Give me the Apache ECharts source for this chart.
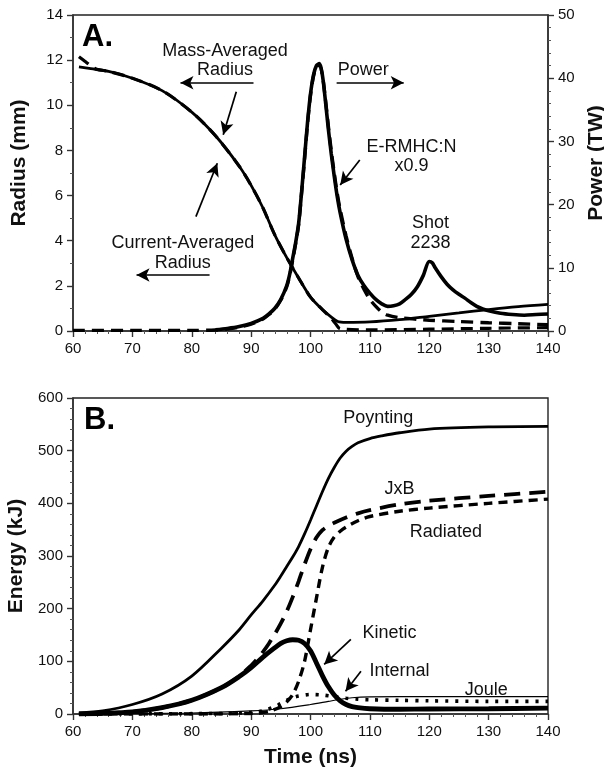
<!DOCTYPE html>
<html>
<head>
<meta charset="utf-8">
<script src="https://cdn.jsdelivr.net/npm/echarts@6/dist/echarts.min.js"></script>
<style>
  html, body { margin: 0; padding: 0; background: #fff; }
  #chart { width: 604px; height: 770px; }
</style>
</head>
<body>
<div id="chart"></div>
<script>
// ---------- Panel A data ----------
var radiusMassT = [61, 63, 66, 70, 75, 80, 84, 88, 90, 92, 94, 96, 98, 100, 102, 103.3, 104.6, 106, 110, 115, 120, 125, 130, 135, 140];
var radiusMass = [11.7, 11.62, 11.5, 11.2, 10.65, 9.7, 8.65, 7.3, 6.45, 5.45, 4.25, 3.25, 2.35, 1.5, 0.95, 0.66, 0.42, 0.38, 0.4, 0.5, 0.65, 0.8, 0.95, 1.08, 1.18];

var radiusCurT = [61, 62, 63, 64, 66, 70, 75, 80, 84, 88, 90, 92, 94, 96, 98, 100, 102, 103.3, 104.3, 105, 110, 120, 130, 140];
var radiusCur = [12.15, 11.95, 11.75, 11.6, 11.5, 11.2, 10.65, 9.7, 8.65, 7.3, 6.45, 5.45, 4.25, 3.25, 2.35, 1.5, 0.95, 0.62, 0.3, 0.1, 0.05, 0.08, 0.12, 0.15];

var powerExpT = [84, 86, 88, 90, 92, 93, 94, 95, 96, 96.5, 97, 97.5, 98, 98.5, 99, 99.5, 100, 100.5, 101, 101.5, 102, 102.5, 103, 103.5, 104, 104.5, 105, 106, 107, 108, 109, 110, 111, 112, 113, 114, 115, 116, 117, 118, 119, 120, 120.5, 121, 122, 123, 124, 125, 126, 127, 128, 129, 130, 132, 134, 136, 138, 140];
var powerExp = [0.2, 0.4, 0.7, 1.2, 2.0, 2.7, 3.6, 5.0, 7.2, 9.0, 11.5, 14, 17, 22, 27.5, 33, 37.5, 40.5, 42, 42.3, 40.5, 36.5, 32, 28, 24.5, 21.3, 18.7, 14.5, 11.3, 8.8, 7.2, 6.0, 5.0, 4.3, 3.9, 4.0, 4.3, 5.0, 5.8, 7.0, 8.8, 11.0, 10.8, 10.0, 8.6, 7.4, 6.5, 5.8, 5.2, 4.5, 3.9, 3.5, 3.2, 2.8, 2.6, 2.5, 2.6, 2.7];

var powerSimT = [60, 70, 80, 84, 86, 88, 90, 92, 93, 94, 95, 96, 96.5, 97, 97.5, 98, 98.5, 99, 99.5, 100, 100.5, 101, 101.5, 102, 102.5, 103, 103.5, 104, 104.5, 105, 106, 107, 108, 109, 110, 111, 112, 113, 115, 118, 120, 125, 130, 135, 140];
var powerSim = [0.1, 0.1, 0.1, 0.15, 0.3, 0.6, 1.1, 1.9, 2.6, 3.5, 4.9, 7.0, 8.8, 11.2, 13.8, 16.8, 21.8, 27.2, 32.8, 37.3, 40.3, 41.8, 42.1, 40.5, 36.8, 32.5, 28.5, 25, 21.8, 19.2, 15, 11.5, 8.6, 6.6, 5.0, 3.9, 3.0, 2.5, 2.1, 1.85, 1.7, 1.5, 1.3, 1.15, 1.0];

// ---------- Panel B data ----------
var poyntingT = [61, 65, 70, 75, 80, 85, 88, 90, 92, 94, 95, 96, 97, 98, 99, 100, 101, 102, 103, 104, 105, 106, 107, 108, 110, 112, 115, 120, 130, 140];
var poynting = [2, 6, 18, 38, 72, 125, 160, 188, 215, 245, 262, 280, 298, 318, 342, 368, 395, 422, 447, 468, 486, 499, 508, 515, 523, 528, 534, 541, 545, 546];

var jxbT = [61, 65, 70, 75, 80, 85, 88, 90, 91, 92, 93, 94, 95, 96, 97, 98, 99, 100, 101, 102, 103, 104, 106, 108, 110, 115, 120, 130, 140];
var jxb = [0, 1, 4, 12, 26, 50, 72, 92, 104, 118, 134, 152, 172, 195, 222, 252, 284, 313, 335, 349, 357, 363, 373, 381, 387, 398, 405, 414, 422];

var radiatedT = [61, 80, 90, 93, 95, 96, 97, 98, 99, 100, 101, 102, 103, 104, 105, 106, 108, 110, 115, 120, 130, 140];
var radiated = [0, 0, 1, 5, 14, 23, 37, 62, 100, 160, 220, 278, 316, 336, 347, 355, 367, 375, 385, 391, 400, 408];

var kineticT = [61, 65, 70, 75, 80, 85, 88, 90, 92, 94, 95, 96, 97, 98, 99, 100, 101, 102, 103, 104, 105, 106, 107, 108, 110, 115, 120, 130, 140];
var kinetic = [0, 1, 4, 12, 26, 50, 71, 88, 108, 126, 134, 139, 141, 140, 134, 120, 97, 73, 52, 36, 25, 18, 14, 12, 10, 9, 9.5, 10, 11];

var internalT = [61, 85, 90, 92, 94, 95, 96, 97, 98, 100, 102, 104, 106, 108, 110, 115, 120, 130, 140];
var internal = [0, 1, 3, 6, 14, 20, 26, 31, 34, 37, 36, 33, 30, 28, 27, 26, 25, 24, 24];

var jouleT = [61, 80, 90, 95, 100, 103, 105, 107, 110, 120, 140];
var joule = [0, 2, 6, 10, 18, 24, 28, 31, 32.5, 33, 33];

function pairs(xs, ys) {
  return xs.map(function (x, i) { return [x, ys[i]]; });
}

var FONT = '"Liberation Sans", Arial, sans-serif';
var INK = "#111";

// annotation arrows: [from, to] in data coords
var arrowsA = [
  [[90.4, 11.0], [78.1, 11.0]],
  [[87.5, 10.6], [85.3, 8.7]],
  [[104.4, 11.0], [115.7, 11.0]],
  [[108.3, 7.58], [105.0, 6.47]],
  [[80.7, 5.07], [84.3, 7.43]],
  [[83.0, 2.48], [70.7, 2.48]],
];
var arrowsB = [
  [[106.8, 141.6], [102.3, 94]],
  [[108.5, 81], [105.9, 43]],
];

// text notes: [t, value, text]
var notesA = [
  [85.6, 12.4, "Mass-Averaged"],
  [85.6, 11.55, "Radius"],
  [108.9, 11.55, "Power"],
  [117, 8.17, "E-RMHC:N"],
  [117, 7.3, "x0.9"],
  [120.2, 4.77, "Shot"],
  [120.2, 3.88, "2238"],
  [78.5, 3.88, "Current-Averaged"],
  [78.5, 3.0, "Radius"],
];
var notesB = [
  [111.4, 562, "Poynting"],
  [115, 427, "JxB"],
  [122.8, 345, "Radiated"],
  [113.3, 154, "Kinetic"],
  [115, 81, "Internal"],
  [129.6, 46, "Joule"],
];

function arrowLines(list) {
  return {
    silent: true,
    symbol: ["none", "arrow"],
    symbolSize: [10, 13],
    label: { show: false },
    lineStyle: { color: "#000", type: "solid", width: 1.7 },
    data: list.map(function (a) {
      return [{ coord: a[0] }, { coord: a[1] }];
    }),
  };
}

var tickLabel = { color: INK, fontSize: 15, fontFamily: FONT, margin: 10 };
var axisLine = { show: true, lineStyle: { color: "#333", width: 1.6 } };

function nameStyle(pad) {
  return { color: INK, fontSize: 21, fontWeight: "bold", fontFamily: FONT, padding: pad || 0 };
}

function xAxisFor(gridIndex, name) {
  return {
    type: "value",
    gridIndex: gridIndex,
    min: 60,
    max: 140,
    interval: 10,
    name: name,
    nameLocation: "middle",
    nameGap: 33,
    nameTextStyle: nameStyle(),
    axisLine: axisLine,
    axisTick: { show: true, inside: false, length: 6, lineStyle: { color: "#333", width: 1.4 } },
    minorTick: { show: true, splitNumber: 5, length: 3, lineStyle: { color: "#555" } },
    axisLabel: tickLabel,
    splitLine: { show: false },
  };
}

function yAxisFor(gridIndex, pos, max, interval, minorSplit, name, gap, pad) {
  return {
    type: "value",
    gridIndex: gridIndex,
    position: pos,
    min: 0,
    max: max,
    interval: interval,
    name: name,
    nameLocation: "middle",
    nameRotate: 90,
    nameGap: gap,
    nameTextStyle: nameStyle(pad),
    axisLine: axisLine,
    axisTick: { show: true, inside: false, length: 6, lineStyle: { color: "#333", width: 1.4 } },
    minorTick: { show: true, splitNumber: minorSplit, length: 3, lineStyle: { color: "#555" } },
    axisLabel: tickLabel,
    splitLine: { show: false },
  };
}

function line(name, data, x, y, width, dash, extra) {
  var s = {
    name: name,
    type: "line",
    xAxisIndex: x,
    yAxisIndex: y,
    data: data,
    symbol: "none",
    smooth: 0.3,
    lineStyle: { color: "#000", width: width, type: dash || "solid" },
    z: 3,
  };
  if (extra) {
    for (var k in extra) s[k] = extra[k];
  }
  return s;
}

var chart = echarts.init(document.getElementById("chart"));
var option = {
  animation: false,
  backgroundColor: "#fff",
  grid: [
    { left: 73, right: 56, top: 15, height: 316, show: true, borderColor: "#222", borderWidth: 1.4, outerBoundsMode: "none" },
    { left: 73, right: 56, top: 398, height: 316, show: true, borderColor: "#222", borderWidth: 1.4, outerBoundsMode: "none" },
  ],
  xAxis: [xAxisFor(0, ""), xAxisFor(1, "Time (ns)")],
  yAxis: [
    yAxisFor(0, "left", 14, 2, 2, "Radius (mm)", 43, [0, 0, 0, 20]),
    yAxisFor(0, "right", 50, 10, 5, "Power (TW)", 38, [0, 0, 0, 20]),
    yAxisFor(1, "left", 600, 100, 5, "Energy (kJ)", 43),
  ],
  series: [
    line("Mass-Averaged Radius", pairs(radiusMassT, radiusMass), 0, 0, 2.8, "solid", { markLine: arrowLines(arrowsA) }),
    line("Current-Averaged Radius", pairs(radiusCurT, radiusCur), 0, 0, 3.2, [12, 7]),
    line("Power (Shot 2238)", pairs(powerExpT, powerExp), 0, 1, 3.6, "solid"),
    line("E-RMHC:N x0.9", pairs(powerSimT, powerSim), 0, 1, 3.4, [12, 7]),
    line("Poynting", pairs(poyntingT, poynting), 1, 2, 2.8, "solid", { markLine: arrowLines(arrowsB) }),
    line("JxB", pairs(jxbT, jxb), 1, 2, 3.8, [16, 9]),
    line("Radiated", pairs(radiatedT, radiated), 1, 2, 3.4, [9, 6]),
    line("Kinetic", pairs(kineticT, kinetic), 1, 2, 4.8, "solid"),
    line("Internal", pairs(internalT, internal), 1, 2, 3.6, [3, 7]),
    line("Joule", pairs(jouleT, joule), 1, 2, 1.1, "solid"),
  ],
};
chart.setOption(option);

// place the text notes using the axes' own scales
var graphics = [];
function addNotes(list, xi, yi) {
  list.forEach(function (n) {
    var p = chart.convertToPixel({ xAxisIndex: xi, yAxisIndex: yi }, [n[0], n[1]]);
    graphics.push({
      type: "text",
      x: p[0],
      y: p[1],
      z: 10,
      style: {
        text: n[2],
        fill: INK,
        font: "18px " + FONT,
        align: "center",
        verticalAlign: "middle",
      },
    });
  });
}
addNotes(notesA, 0, 0);
addNotes(notesB, 1, 2);
graphics.push({
  type: "text", x: 82, y: 22, z: 10,
  style: { text: "A.", fill: "#000", font: "bold 31px " + FONT, align: "left", verticalAlign: "top" },
});
graphics.push({
  type: "text", x: 84, y: 405, z: 10,
  style: { text: "B.", fill: "#000", font: "bold 31px " + FONT, align: "left", verticalAlign: "top" },
});
chart.setOption({ graphic: graphics });

window.addEventListener("resize", function () {
  chart.resize();
});
</script>
</body>
</html>
